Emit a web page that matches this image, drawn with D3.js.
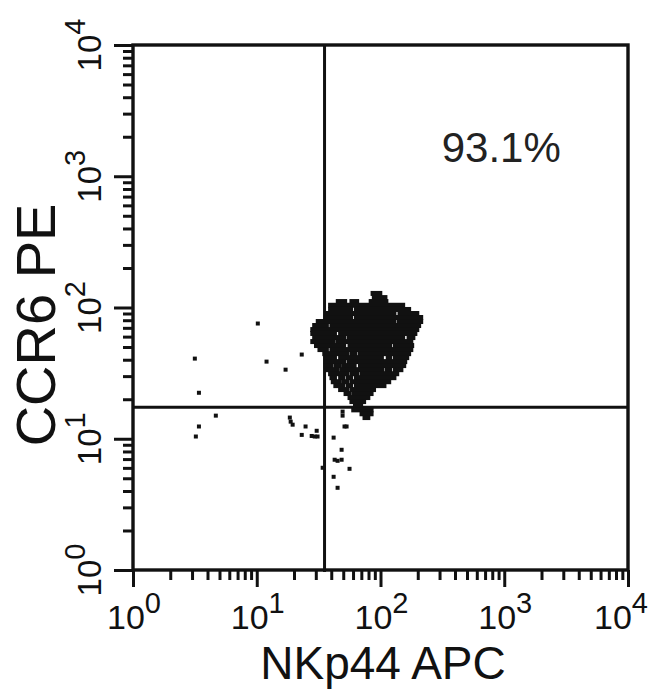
<!DOCTYPE html>
<html><head><meta charset="utf-8">
<script src="https://cdn.jsdelivr.net/npm/d3@7"></script>
<style>body{margin:0;background:#fff}svg{display:block}</style>
</head><body>
<svg id="c" width="650" height="690"></svg>
<script>
// ---- data ----
const decadeTicks = [1, 10, 100, 1000, 10000];
const tickExponents = ["0", "1", "2", "3", "4"];
const minorMultipliers = [2, 3, 4, 5, 6, 7, 8, 9];
const xTitle = "NKp44 APC";
const yTitle = "CCR6 PE";
const gateNKp44 = 35.3;
const gateCCR6 = 17.4;
const quadrantLabel = "93.1%";
const labelNKp44 = 1000;

// dense core of the population: one row per CCR6 level, runs of contiguous events along NKp44
const coreCCR6 = [128, 119, 111, 104, 96.6, 90, 83.9, 78.2, 72.9, 67.9, 63.4, 59, 55, 51.3, 47.8, 44.5,
  41.5, 38.7, 36.1, 33.6, 31.3, 29.2, 27.2, 25.4, 23.7, 22.1, 20.6, 19.2, 17.9, 16.6, 15.5, 14.5];
const coreRuns = [
  [[86, 100]],
  [[88, 110]],
  [[45, 52], [58, 65], [83, 112]],
  [[39, 153]],
  [[39, 58], [63, 171]],
  [[37, 130], [142, 199]],
  [[36, 58], [63, 214]],
  [[31, 130], [140, 214]],
  [[29, 37], [40, 206]],
  [[28, 199]],
  [[28, 43], [47, 192]],
  [[29, 51], [55, 153], [168, 185]],
  [[28, 42], [45, 178]],
  [[30, 51], [56, 120], [130, 181]],
  [[32, 37], [40, 178]],
  [[35, 54], [58, 63], [68, 171]],
  [[36, 43], [47, 103], [114, 120], [130, 165]],
  [[36, 51], [55, 159]],
  [[36, 40], [43, 47], [50, 62], [68, 156]],
  [[37, 45], [48, 104], [112, 120], [130, 148]],
  [[39, 54], [58, 65], [70, 137]],
  [[40, 43], [47, 50], [54, 58], [63, 130]],
  [[41, 47], [50, 54], [58, 118]],
  [[43, 50], [54, 58], [63, 108]],
  [[47, 54], [58, 89]],
  [[52, 56], [60, 85]],
  [[56, 80]],
  [[58, 74]],
  [[62, 70]],
  [[60, 85]],
  [[70, 85]],
  [[74, 80]]
];

// isolated events
const eventNKp44 = [10.2, 3.16, 12.0, 17.1, 23.1, 3.41, 4.67, 3.41, 3.22, 18.5, 18.8, 19.5, 24.8, 23.1,
  30.5, 27.8, 29.4, 31.0, 41.8, 48.5, 42.6, 45.0, 48.5, 56.2, 41.8, 45.0, 34.1, 51.2, 49.4, 49.4, 53.2];
const eventCCR6 = [75.5, 40.8, 38.7, 33.6, 43.8, 22.4, 15.0, 12.4, 10.4, 14.5, 13.5, 12.8, 12.4, 10.7,
  11.5, 10.5, 10.4, 10.4, 10.2, 8.24, 6.92, 6.79, 6.92, 5.90, 5.13, 4.23, 6.01, 12.4, 16.1, 15.0, 12.4];

// ---- drawing ----
const M = {left: 133, right: 628, top: 45, bottom: 570};
const font = "'Liberation Sans', Arial, Helvetica, sans-serif";
const ink = "#111";

const svg = d3.select("#c");
const x = d3.scaleLog().domain([1, 10000]).range([M.left, M.right]);
const y = d3.scaleLog().domain([1, 10000]).range([M.bottom, M.top]);

const minorVals = [];
decadeTicks.slice(0, -1).forEach(d => minorMultipliers.forEach(m => minorVals.push(d * m)));

const xAxisMinor = d3.axisBottom(x).tickValues(minorVals).tickSize(10).tickFormat("");
const xAxisMajor = d3.axisBottom(x).tickValues(decadeTicks).tickSize(17).tickFormat("");
const yAxisMinor = d3.axisLeft(y).tickValues(minorVals).tickSize(10).tickFormat("");
const yAxisMajor = d3.axisLeft(y).tickValues(decadeTicks).tickSize(19).tickFormat("");

function styleAxis(g) {
  g.select(".domain").remove();
  g.selectAll(".tick line").attr("stroke", ink).attr("stroke-width", 3);
}
svg.append("g").attr("transform", `translate(0,${M.bottom})`).call(xAxisMinor).call(styleAxis);
svg.append("g").attr("transform", `translate(0,${M.bottom})`).call(xAxisMajor).call(styleAxis);
svg.append("g").attr("transform", `translate(${M.left},0)`).call(yAxisMinor).call(styleAxis);
svg.append("g").attr("transform", `translate(${M.left},0)`).call(yAxisMajor).call(styleAxis);

// frame
svg.append("rect").attr("x", M.left).attr("y", M.top).attr("width", M.right - M.left).attr("height", M.bottom - M.top)
  .attr("fill", "none").attr("stroke", ink).attr("stroke-width", 3.4);

// quadrant gates
svg.append("line").attr("x1", x(gateNKp44)).attr("x2", x(gateNKp44)).attr("y1", M.top).attr("y2", M.bottom + 2)
  .attr("stroke", ink).attr("stroke-width", 3);
svg.append("line").attr("x1", M.left).attr("x2", M.right).attr("y1", y(gateCCR6)).attr("y2", y(gateCCR6))
  .attr("stroke", ink).attr("stroke-width", 3);

// dense core runs
const runs = [];
coreCCR6.forEach((c, i) => coreRuns[i].forEach(r => runs.push({c, a: r[0], b: r[1]})));
svg.append("g").selectAll("rect").data(runs).join("rect")
  .attr("x", d => x(d.a) - 1.8)
  .attr("width", d => x(d.b) - x(d.a) + 3.6)
  .attr("y", d => y(d.c) - 2.5)
  .attr("height", 5)
  .attr("fill", ink);

// isolated events
svg.append("g").selectAll("rect").data(eventNKp44.map((v, i) => [v, eventCCR6[i]])).join("rect")
  .attr("x", d => x(d[0]) - 2).attr("y", d => y(d[1]) - 2)
  .attr("width", 4).attr("height", 4).attr("fill", ink);

// tick labels
function power(sel, exp) {
  sel.append("tspan").text("10");
  sel.append("tspan").attr("dy", -16).attr("font-size", 29).text(exp);
}
decadeTicks.forEach((d, i) => {
  const last = i === decadeTicks.length - 1;
  svg.append("text").attr("x", last ? 648 : x(d) + 1).attr("y", 629)
    .attr("text-anchor", last ? "end" : "middle").attr("font-family", font).attr("font-size", 34).attr("fill", ink)
    .call(power, tickExponents[i]);
  svg.append("text").attr("transform", `translate(101,${y(d)}) rotate(-90)`)
    .attr("text-anchor", "middle").attr("font-family", font).attr("font-size", 33).attr("fill", ink)
    .call(power, tickExponents[i]);
});

// titles
svg.append("text").attr("x", 383).attr("y", 679).attr("text-anchor", "middle")
  .attr("font-family", font).attr("font-size", 46).attr("fill", ink).text(xTitle);
svg.append("text").attr("transform", `translate(55,325) rotate(-90)`)
  .attr("text-anchor", "middle").attr("font-family", font).attr("font-size", 56).attr("fill", ink).text(yTitle);

// quadrant percentage
svg.append("text").attr("x", x(labelNKp44) - 3).attr("y", 162).attr("text-anchor", "middle")
  .attr("font-family", font).attr("font-size", 42).attr("fill", "#222").text(quadrantLabel);
</script>
</body></html>
